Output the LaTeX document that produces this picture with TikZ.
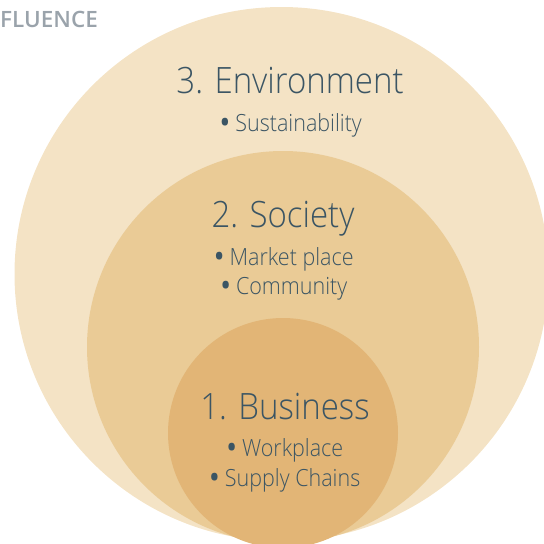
\documentclass[tikz,border=0pt]{standalone}
\usepackage{fontspec}
\setmainfont{Open Sans}[UprightFont=* Light, BoldFont=* Semibold]
\definecolor{envc}{HTML}{F4E3C5}
\definecolor{socc}{HTML}{EACB96}
\definecolor{busc}{HTML}{E2B576}
\definecolor{txtc}{HTML}{3B5564}
\definecolor{grayc}{HTML}{9AA3AB}
\newcommand{\bul}{\raisebox{-0.07em}{\scalebox{1.2}{\bfseries •}}}
\newcommand{\tall}[1]{\scalebox{1}[1.1]{#1}}
\tikzset{
  title/.style={anchor=base, text=txtc, font=\fontsize{33}{38}\selectfont, inner sep=0pt},
  item/.style={anchor=base, text=txtc, font=\fontsize{21.5}{25}\selectfont, inner sep=0pt},
}
\begin{document}
\begin{tikzpicture}[x=1pt,y=-1pt]
\useasboundingbox (0,0) rectangle (544,544);
\begin{scope}
\clip (0,0) rectangle (544,544);
\fill[envc] (281.5,274) circle (267);
\fill[socc] (283,347) circle (196);
\fill[busc] (283,433) circle (115);
\end{scope}
\node[anchor=base west, text=grayc, font=\fontsize{22.5}{26}\selectfont\bfseries, inner sep=0pt] (hdr) at (0,27) {FLUENCE};
\node[title] (env) at (290,93) {\tall{3. Environment}};
\node[item] (sus) at (291,131) {\tall{\bul{} Sustainability}};
\node[title] (soc) at (283,227) {\tall{2. Society}};
\node[item] (mkt) at (284,265) {\tall{\bul{} Market place}};
\node[item] (com) at (284,294) {\tall{\bul{} Community}};
\node[title] (bus) at (285,419) {\tall{1. Business}};
\node[item] (wrk) at (285,456) {\tall{\bul{} Workplace}};
\node[item] (sup) at (285,486) {\tall{\bul{} Supply Chains}};
\end{tikzpicture}
\end{document}
